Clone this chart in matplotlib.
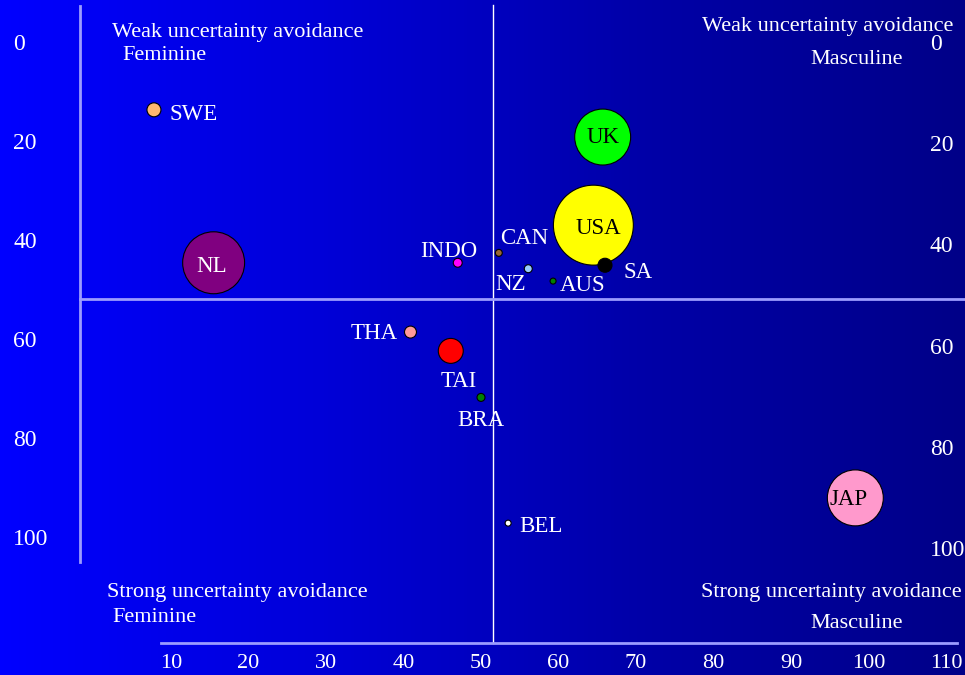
import numpy as np
import matplotlib
matplotlib.use("Agg")
import matplotlib.pyplot as plt

plt.rcParams['font.family'] = ['Liberation Serif', 'DejaVu Serif']

# countries: masculinity (x) vs uncertainty avoidance (y, inverted)
countries = ['SWE', 'NL', 'UK', 'USA', 'INDO', 'CAN', 'NZ', 'AUS', 'SA',
             'THA', 'TAI', 'BRA', 'BEL', 'JAP']
masc = [7.8, 15.5, 65.7, 64.5, 47.0, 52.3, 56.1, 59.3, 66.0,
        40.9, 46.1, 50.0, 53.5, 98.3]
uai = [13.7, 44.6, 19.2, 37.0, 44.6, 42.6, 45.8, 48.3, 45.1,
       58.6, 62.4, 71.8, 97.2, 92.1]
bubble = [49, 961, 784, 1600, 20, 12, 16, 9, 49, 36, 156, 16, 9, 784]

x_ticks = [10, 20, 30, 40, 50, 60, 70, 80, 90, 100, 110]
y_ticks = [0, 20, 40, 60, 80, 100]
mid_x = 51.5
mid_y = 51.9

colors = ['#FFB870', '#800080', '#00FF00', '#FFFF00', '#FF00FF', '#996633',
          '#99CCFF', '#008000', '#000000', '#FF9999', '#FF0000', '#008000',
          '#FFFFFF', '#FF99CC']
# label offset in pixels, alignment, colour
lbl_style = {
    'SWE': ((16, -5), 'left', 'white'),
    'NL': ((-2, -4), 'center', 'white'),
    'UK': ((0, 0), 'center', 'black'),
    'USA': ((5, -3), 'center', 'black'),
    'INDO': ((-9, 11), 'center', 'white'),
    'CAN': ((25, 14), 'center', 'white'),
    'NZ': ((-18, -16), 'center', 'white'),
    'AUS': ((30, -4), 'center', 'white'),
    'SA': ((33, -7), 'center', 'white'),
    'THA': ((-36, -1), 'center', 'white'),
    'TAI': ((8, -31), 'center', 'white'),
    'BRA': ((0, -23), 'center', 'white'),
    'BEL': ((33, -3), 'center', 'white'),
    'JAP': ((-7, -2), 'center', 'black'),
}

fig = plt.figure(figsize=(9.65, 6.75), dpi=100)
ax = fig.add_axes([0, 0, 1, 1])

# pixel mapping: x=10 -> 171px, 7.75 px/unit; y=0 -> 42px, 4.95 px/unit
ax.set_xlim(10 - 171 / 7.75, 10 + 794 / 7.75)
ax.set_ylim(633 / 4.95, -42 / 4.95)

# gradient background
grad = np.linspace(0, 1, 256)[None, :]
cmap = matplotlib.colors.LinearSegmentedColormap.from_list(
    'bg', ['#0000FF', '#0000D8', '#0000A8', '#000088'])
ax.imshow(grad, cmap=cmap, aspect='auto', extent=[0, 1, 0, 1],
          transform=ax.transAxes, zorder=0)

for s in ['top', 'right']:
    ax.spines[s].set_visible(False)
ax.spines['left'].set_position(('data', 10 + (80 - 171) / 7.75))
ax.spines['left'].set_bounds(-36 / 4.95, 520 / 4.95)
ax.spines['bottom'].set_position(('data', 601 / 4.95))
ax.spines['bottom'].set_bounds(10 + (161 - 171) / 7.75, 10 + (957 - 171) / 7.75)
for s in ['left', 'bottom']:
    ax.spines[s].set_color('#9C9CFF')
    ax.spines[s].set_linewidth(2)
    ax.spines[s].set_zorder(2)

ax.set_xticks(x_ticks)
ax.set_xticklabels([str(v) for v in x_ticks])
ax.set_yticks(y_ticks)
ax.set_yticklabels([str(v) for v in y_ticks])
ax.tick_params(axis='both', length=0, colors='white')
ax.tick_params(axis='x', pad=8, labelsize=16)
ax.tick_params(axis='y', pad=48, labelsize=17)
for t in ax.get_yticklabels():
    t.set_ha('left')

# right-hand labels (slightly different spacing)
ax2 = ax.twinx()
ax2.set_ylim(633 / 5.06, -42 / 5.06)
for s in ax2.spines.values():
    s.set_visible(False)
ax2.spines['right'].set_position(('data', 10 + (930 - 171) / 7.75))
ax2.set_yticks(y_ticks)
ax2.set_yticklabels([str(v) for v in y_ticks])
ax2.tick_params(axis='y', length=0, colors='white', labelsize=17, pad=0)
ax2.patch.set_visible(False)

# quadrant lines
ax.plot([mid_x, mid_x], [-37 / 4.95, 601 / 4.95], color='white', lw=1, zorder=2)
ax.plot([10 + (80 - 171) / 7.75, 10 + 794 / 7.75], [mid_y, mid_y],
        color='#9C9CFF', lw=2, zorder=2)

sizes = [b * 2.07 for b in bubble]
ax.scatter(masc, uai, s=sizes, c=colors, edgecolors='black', linewidths=0.8,
           zorder=3)

for name, x, y in zip(countries, masc, uai):
    off, ha, col = lbl_style[name]
    ax.annotate(name, (x, y), xytext=off, textcoords='offset pixels',
                ha=ha, va='center', color=col, fontsize=16.5, zorder=4)

# quadrant captions (pixel positions)
def cap(txt, px, py, ha='left'):
    ax.text(px / 965, 1 - py / 675, txt, transform=ax.transAxes, ha=ha,
            va='center', color='white', fontsize=16, zorder=4)

cap('Weak uncertainty avoidance', 112, 33)
cap('Feminine', 122, 55)
cap('Weak uncertainty avoidance', 953, 27, ha='right')
cap('Masculine', 857, 60, ha='center')
cap('Strong uncertainty avoidance', 107, 593)
cap('Feminine', 112, 618)
cap('Strong uncertainty avoidance', 962, 593, ha='right')
cap('Masculine', 857, 623, ha='center')

fig.savefig('out.png', dpi=100)
